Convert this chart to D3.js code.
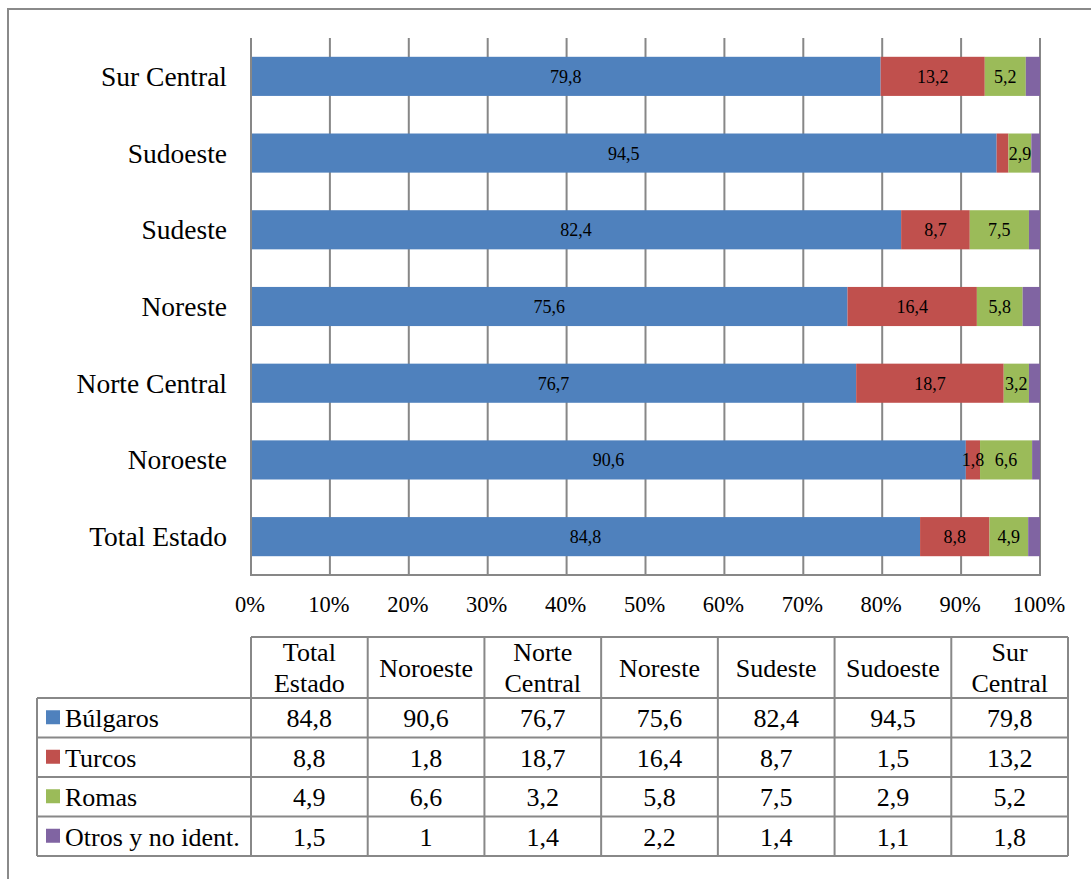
<!DOCTYPE html>
<html>
<head>
<meta charset="utf-8">
<script src="https://cdn.jsdelivr.net/npm/d3@7"></script>
<style>
  html, body { margin: 0; padding: 0; background: #fff; }
  svg { display: block; }
  svg text { font-family: "Liberation Serif", "Times New Roman", Times, "DejaVu Serif", serif; }
</style>
</head>
<body>
<svg id="chart" width="1091" height="879" font-family="'Liberation Serif', 'Times New Roman', serif"></svg>
<script>
// ---- Data ----
const categories = ["Total Estado", "Noroeste", "Norte Central", "Noreste", "Sudeste", "Sudoeste", "Sur Central"];
const headerLines = [["Total", "Estado"], ["Noroeste"], ["Norte", "Central"], ["Noreste"], ["Sudeste"], ["Sudoeste"], ["Sur", "Central"]];
const seriesNames = ["Búlgaros", "Turcos", "Romas", "Otros y no ident."];
const bulgaros = [84.8, 90.6, 76.7, 75.6, 82.4, 94.5, 79.8];
const turcos   = [8.8, 1.8, 18.7, 16.4, 8.7, 1.5, 13.2];
const romas    = [4.9, 6.6, 3.2, 5.8, 7.5, 2.9, 5.2];
const otros    = [1.5, 1, 1.4, 2.2, 1.4, 1.1, 1.8];
const tickValues = [0, 0.1, 0.2, 0.3, 0.4, 0.5, 0.6, 0.7, 0.8, 0.9, 1.0];
const labeledSeries = ["Búlgaros", "Turcos", "Romas"];
const hiddenLabels = [["Sudoeste", "Turcos"]];
const colors = ["#4F81BD", "#C0504D", "#9BBB59", "#8064A2"];

const seriesValues = [bulgaros, turcos, romas, otros];
const fmt = v => String(v).replace(".", ",");
const FONT = "'Liberation Serif', 'Times New Roman', serif";

const svg = d3.select("#chart");
const gridColor = "#878787";

// outer frame
svg.append("rect").attr("x", 8).attr("y", 9).attr("width", 1200).attr("height", 1000)
  .attr("fill", "none").attr("stroke", "#8a8a8a").attr("stroke-width", 2);

// ---- Scales ----
const x = d3.scaleLinear().domain([0, 1]).range([251, 1040]);
const y = d3.scaleBand().domain(categories.slice().reverse()).range([38, 575])
  .paddingInner(0.49).paddingOuter(0.245);

// gridlines
svg.append("g").selectAll("line").data(tickValues).join("line")
  .attr("x1", d => x(d)).attr("x2", d => x(d))
  .attr("y1", 38).attr("y2", 575)
  .attr("stroke", gridColor).attr("stroke-width", 2);

// stacked data (normalized)
const rows = categories.map((c, i) => {
  const o = { cat: c };
  seriesNames.forEach((s, j) => o[s] = seriesValues[j][i]);
  return o;
});
const stack = d3.stack().keys(seriesNames).offset(d3.stackOffsetExpand);
const stacked = stack(rows);

const gBars = svg.append("g");
stacked.forEach((layer, j) => {
  gBars.append("g").attr("fill", colors[j]).selectAll("rect").data(layer).join("rect")
    .attr("x", d => x(d[0]))
    .attr("width", d => x(d[1]) - x(d[0]))
    .attr("y", d => y(d.data.cat))
    .attr("height", y.bandwidth());
});

// bar labels
stacked.forEach((layer, j) => {
  const name = seriesNames[j];
  if (!labeledSeries.includes(name)) return;
  svg.append("g").selectAll("text")
    .data(layer.filter(d => !hiddenLabels.some(h => h[0] === d.data.cat && h[1] === name)))
    .join("text")
    .attr("x", d => (x(d[0]) + x(d[1])) / 2)
    .attr("y", d => y(d.data.cat) + y.bandwidth() / 2 + 6.5)
    .attr("text-anchor", "middle")
    .attr("font-family", FONT)
    .attr("font-size", 18)
    .attr("fill", "#000")
    .text(d => fmt(d.data[name]));
});

// axes lines
svg.append("line").attr("x1", x(0)).attr("x2", x(0)).attr("y1", 38).attr("y2", 575)
  .attr("stroke", gridColor).attr("stroke-width", 2);
svg.append("line").attr("x1", x(0) - 1).attr("x2", x(1) + 1).attr("y1", 575).attr("y2", 575)
  .attr("stroke", gridColor).attr("stroke-width", 2);

// category labels
svg.append("g").selectAll("text").data(categories).join("text")
  .attr("x", 227)
  .attr("y", d => y(d) + y.bandwidth() / 2 + 9.5)
  .attr("text-anchor", "end")
  .attr("font-family", FONT)
  .attr("font-size", 27.5)
  .attr("fill", "#000")
  .text(d => d);

// x tick labels
svg.append("g").selectAll("text").data(tickValues).join("text")
  .attr("x", d => x(d) - 1)
  .attr("y", 612)
  .attr("text-anchor", "middle")
  .attr("font-family", FONT)
  .attr("font-size", 22.5)
  .attr("fill", "#000")
  .text(d => d3.format(".0%")(d));

// ---- Data table ----
const colX = d3.scaleBand().domain(categories).range([251, 1068]);
const tableTop = 637;
const rowY = d3.scaleBand().domain(seriesNames).range([698, 856]);
const tLine = "#888";
const tg = svg.append("g").attr("font-family", FONT);

tg.append("line").attr("x1", 251).attr("x2", 1068).attr("y1", tableTop).attr("y2", tableTop)
  .attr("stroke", tLine).attr("stroke-width", 2);
const hLines = seriesNames.map(s => rowY(s)).concat([rowY.range()[1]]);
tg.selectAll("line.h").data(hLines).join("line").attr("class", "h")
  .attr("x1", 37).attr("x2", 1068).attr("y1", d => d).attr("y2", d => d)
  .attr("stroke", tLine).attr("stroke-width", 2);
const vX = categories.map(c => colX(c)).concat([colX.range()[1]]);
tg.selectAll("line.v").data(vX).join("line").attr("class", "v")
  .attr("x1", d => d).attr("x2", d => d).attr("y1", tableTop).attr("y2", 856)
  .attr("stroke", tLine).attr("stroke-width", 2);
tg.append("line").attr("x1", 37).attr("x2", 37).attr("y1", 698).attr("y2", 856)
  .attr("stroke", tLine).attr("stroke-width", 2);

categories.forEach((c, i) => {
  const lines = headerLines[i];
  const cx = colX(c) + colX.bandwidth() / 2;
  const t = tg.append("text").attr("text-anchor", "middle").attr("font-family", FONT)
    .attr("font-size", 26).attr("fill", "#000");
  if (lines.length === 1) {
    t.append("tspan").attr("x", cx).attr("y", 677).text(lines[0]);
  } else {
    t.append("tspan").attr("x", cx).attr("y", 661).text(lines[0]);
    t.append("tspan").attr("x", cx).attr("y", 692).text(lines[1]);
  }
});

seriesNames.forEach((s, j) => {
  const ry = rowY(s);
  const rh = rowY.bandwidth();
  tg.append("rect").attr("x", 46).attr("y", ry + rh / 2 - 7.5).attr("width", 14).attr("height", 14)
    .attr("fill", colors[j]);
  tg.append("text").attr("x", 65).attr("y", ry + rh / 2 + 9.5).attr("font-family", FONT)
    .attr("font-size", 26).attr("fill", "#000").text(s);
  categories.forEach((c, i) => {
    tg.append("text")
      .attr("x", colX(c) + colX.bandwidth() / 2)
      .attr("y", ry + rh / 2 + 9.5)
      .attr("text-anchor", "middle").attr("font-family", FONT)
      .attr("font-size", 26).attr("fill", "#000")
      .text(fmt(seriesValues[j][i]));
  });
});
</script>
</body>
</html>
